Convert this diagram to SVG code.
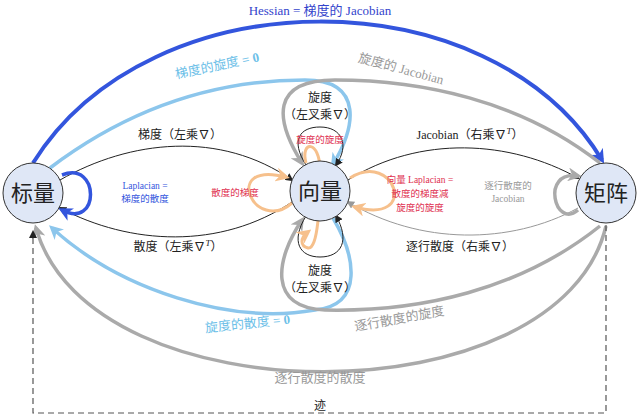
<svg xmlns="http://www.w3.org/2000/svg" width="640" height="418" viewBox="0 0 640 418">
<style>
text{font-family:"Liberation Serif","Noto Sans CJK SC",serif;text-anchor:middle}
.n{fill:#dfe7f6;stroke:#333;stroke-width:1}
.big{font-size:22px;fill:#222}
.l{font-size:12px;fill:#222}
.s{font-size:9.5px}
path{fill:none}
</style>
<defs>
<marker id="ab" markerWidth="8" markerHeight="8" refX="6" refY="4" orient="auto" markerUnits="userSpaceOnUse"><path d="M0,0 L8,4 L0,8 Z" style="fill:#222"/></marker>
<marker id="ad" markerWidth="14" markerHeight="14" refX="10" refY="7" orient="auto" markerUnits="userSpaceOnUse"><path d="M0,0 L14,7 L0,14 L4,7Z" style="fill:#3355dd"/></marker>
<marker id="al" markerWidth="14" markerHeight="14" refX="10" refY="7" orient="auto" markerUnits="userSpaceOnUse"><path d="M0,0 L14,7 L0,14 L4,7Z" style="fill:#8cc6ec"/></marker>
<marker id="ag" markerWidth="14" markerHeight="14" refX="10" refY="7" orient="auto" markerUnits="userSpaceOnUse"><path d="M0,0 L14,7 L0,14 L4,7Z" style="fill:#aaa"/></marker>
<marker id="ao" markerWidth="14" markerHeight="14" refX="10" refY="7" orient="auto" markerUnits="userSpaceOnUse"><path d="M0,0 L14,7 L0,14 L4,7Z" style="fill:#f6c08c"/></marker>
<marker id="ag2" markerWidth="8" markerHeight="8" refX="6" refY="4" orient="auto" markerUnits="userSpaceOnUse"><path d="M0,0 L8,4 L0,8 Z" style="fill:#999"/></marker>
</defs>
<g id="connectors">
<path d="M33,163 C150,-25 490,-25 602,160" stroke="#3355dd" stroke-width="4" marker-end="url(#ad)"/>
<path d="M50,168 C140,100 230,80 305,80 C365,80 355,130 333,164" stroke="#8cc6ec" stroke-width="3.5" marker-end="url(#al)"/>
<path d="M333,218 C355,255 365,305 315,310 C230,325 120,290 52,228" stroke="#8cc6ec" stroke-width="3.5" marker-end="url(#al)"/>
<path d="M600,163 C520,100 420,80 335,80 C270,80 275,120 302,163" stroke="#aaa" stroke-width="3.5" marker-end="url(#ag)"/>
<path d="M600,226 C520,290 420,312 325,310 C268,308 275,260 302,220" stroke="#aaa" stroke-width="3.5" marker-end="url(#ag)"/>
<path d="M606,226 C560,420 90,420 36,228" stroke="#aaa" stroke-width="3.5" marker-end="url(#ag)"/>
<path d="M606,225 V413 H33 V232" stroke="#555" stroke-width="1.2" stroke-dasharray="6,4" marker-end="url(#ab)"/>
<path d="M60,180 C130,140 220,130 292,180" stroke="#222" stroke-width="1" marker-end="url(#ab)"/>
<path d="M292,202 C220,250 130,245 60,208" stroke="#222" stroke-width="1" marker-end="url(#ab)"/>
<path d="M348,180 C420,135 510,140 578,178" stroke="#222" stroke-width="1" marker-end="url(#ab)"/>
<path d="M578,208 C510,245 420,245 348,202" stroke="#999" stroke-width="1" marker-end="url(#ag2)"/>
<path d="M306,165 C290,140 300,127 320,127 C342,127 350,145 336,165" stroke="#222" stroke-width="1" marker-end="url(#ab)"/>
<path d="M306,216 C290,242 300,257 320,257 C342,257 350,240 336,216" stroke="#222" stroke-width="1" marker-end="url(#ab)"/>
<path d="M62,175 C100,160 100,230 62,210" stroke="#3355dd" stroke-width="3.5" marker-end="url(#ad)"/>
<path d="M578,210 C555,230 540,170 578,176" stroke="#aaa" stroke-width="3.5" marker-end="url(#ag)"/>
<path d="M292,203 C255,235 220,160 286,177" stroke="#f6c08c" stroke-width="3" marker-end="url(#ao)"/>
<path d="M350,178 C395,150 420,225 355,207" stroke="#f6c08c" stroke-width="3" marker-end="url(#ao)"/>
<path d="M306,163 C300,140 320,140 320,170 C320,205 318,250 308,248 C300,246 300,238 308,232" stroke="#f6c08c" stroke-width="3" marker-end="url(#ao)"/>
</g>
<g id="n-scalar"><circle class="n" cx="33" cy="193" r="30"/><text class="big" x="33" y="201">标量</text></g>
<g id="n-vector"><circle class="n" cx="320" cy="191" r="30"/><text class="big" x="320" y="199">向量</text></g>
<g id="n-matrix"><circle class="n" cx="606" cy="193" r="30"/><text class="big" x="606" y="201">矩阵</text></g>
<g id="labels">
<text x="320" y="15" style="font-size:13px;fill:#3344cc">Hessian = 梯度的 Jacobian</text>
<text x="218" y="70" transform="rotate(-12 218 70)" style="font-size:13px;fill:#6cc0e8">梯度的旋度 = <tspan font-weight="bold">0</tspan></text>
<text x="400" y="73" transform="rotate(15 400 73)" style="font-size:13px;fill:#999">旋度的 Jacobian</text>
<text class="l" x="320" y="102">旋度</text>
<text class="l" x="320" y="119">（左叉乘∇）</text>
<text class="s" x="320" y="143" fill="#e03050">旋度的旋度</text>
<text class="l" x="180" y="139">梯度（左乘∇）</text>
<text class="l" x="470" y="139">Jacobian（右乘∇<tspan font-style="italic" font-size="9" dy="-5">T</tspan><tspan dy="5">）</tspan></text>
<text class="s" x="145" y="189" fill="#3355dd">Laplacian =</text>
<text class="s" x="145" y="202" fill="#3355dd">梯度的散度</text>
<text class="s" x="235" y="196" fill="#e03050">散度的梯度</text>
<text class="s" x="420" y="183" fill="#e03050">向量 Laplacian =</text>
<text class="s" x="420" y="197" fill="#e03050">散度的梯度减</text>
<text class="s" x="420" y="211" fill="#e03050">旋度的旋度</text>
<text class="s" x="508" y="189" fill="#999">逐行散度的</text>
<text class="s" x="508" y="202" fill="#999">Jacobian</text>
<text class="l" x="178" y="251">散度（左乘∇<tspan font-style="italic" font-size="9" dy="-5">T</tspan><tspan dy="5">）</tspan></text>
<text class="l" x="460" y="251" fill="#888">逐行散度（右乘∇）</text>
<text class="l" x="320" y="275">旋度</text>
<text class="l" x="320" y="292">（左叉乘∇）</text>
<text x="248" y="328" transform="rotate(-6 248 328)" style="font-size:13px;fill:#6cc0e8">旋度的散度 = <tspan font-weight="bold">0</tspan></text>
<text x="400" y="323" transform="rotate(-10 400 323)" style="font-size:13px;fill:#999">逐行散度的旋度</text>
<text x="320" y="382" style="font-size:13px;fill:#999">逐行散度的散度</text>
<text class="l" x="320" y="410">迹</text>
</g>
</svg>
